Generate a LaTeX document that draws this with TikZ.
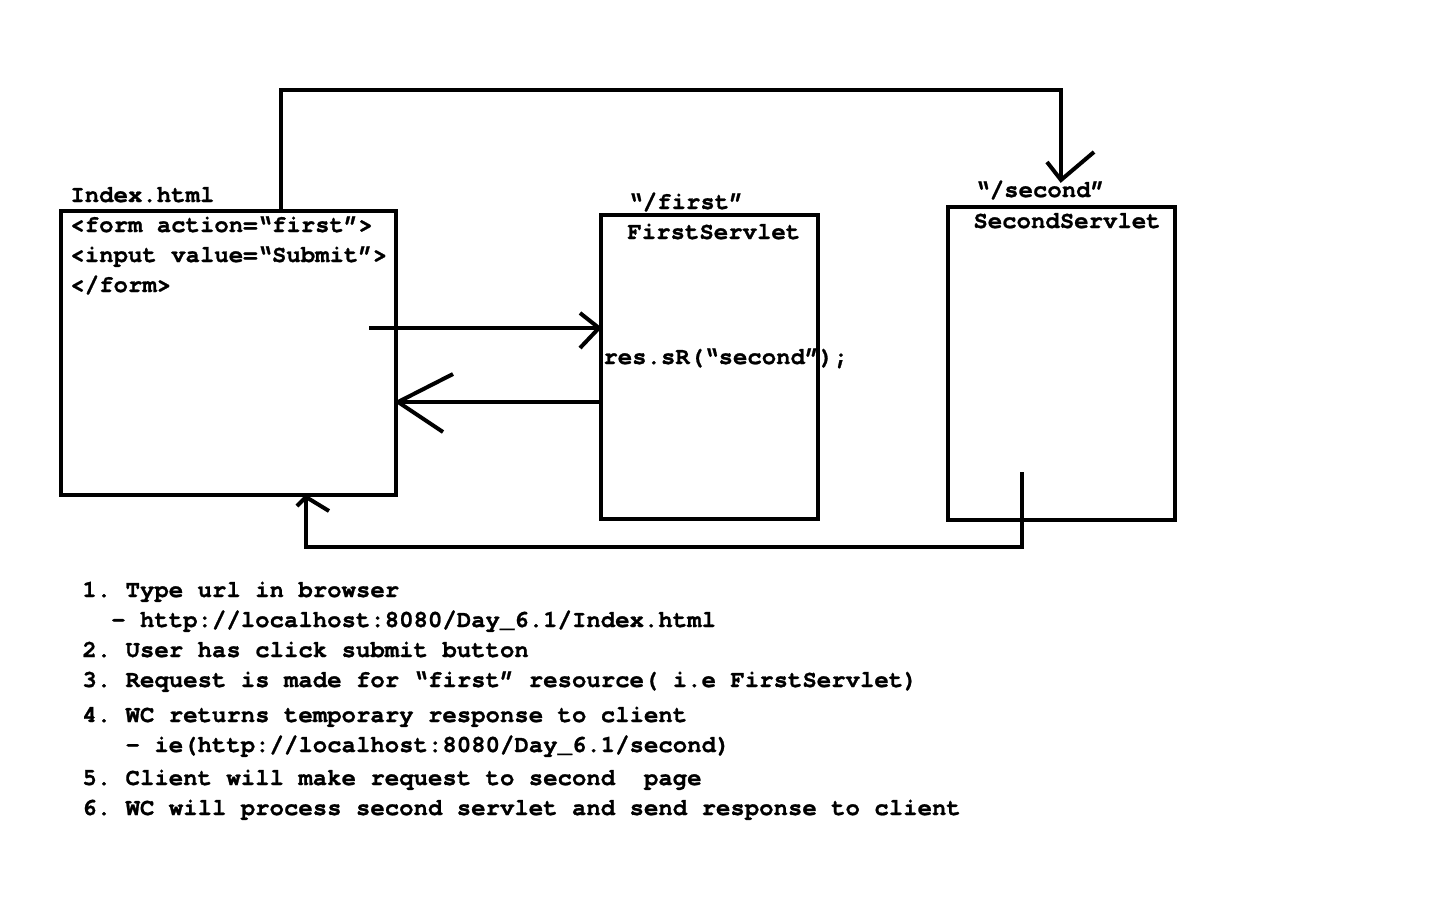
\documentclass[tikz,border=0pt]{standalone}
\usepackage{fontspec}
\setmainfont{texgyrecursor}[Extension=.otf,UprightFont=*-regular,BoldFont=*-bold,Ligatures={NoCommon},BoldFeatures={FakeBold=1}]
\usetikzlibrary{calc}
\frenchspacing
\begin{document}
\begin{tikzpicture}[x=0.5pt,y=-0.5pt,
  box/.style={draw,line width=2pt,inner sep=0pt,rectangle},
  conn/.style={line width=2pt},
  txt/.style={anchor=base west,inner sep=0pt,font=\fontsize{12}{14}\selectfont\bfseries}]
\useasboundingbox (0,0) rectangle (1440,900);
\fill[white] (0,0) rectangle (1440,900);
% boxes
\node[box,minimum width=167.5pt,minimum height=142pt] (index) at (228.5,353) {};
\node[box,minimum width=108.5pt,minimum height=152pt] (first) at (709.5,367) {};
\node[box,minimum width=113.5pt,minimum height=156.5pt] (second) at (1061.5,363.5) {};
% labels
\node[txt] (lindex) at (70,202) {Index.html};
\node[txt] (f1) at (70,232) {<form action=“first”>};
\node[txt] (f2) at (70,262) {<input value=“Submit”>};
\node[txt] (f3) at (70,292) {</form>};
\node[txt] (lfirst) at (628,209) {“/first”};
\node[txt] (nfirst) at (627,239) {FirstServlet};
\node[txt] (ressr) at (603,364) {res.sR(“second”);};
\node[txt] (lsecond) at (975,197) {“/second”};
\node[txt] (nsecond) at (973,228) {SecondServlet};
% list
\node[txt] (s1) at (82,597) {1. Type url in browser};
\node[txt] (s1b) at (82,627) {\ \ - http://localhost:8080/Day\_6.1/Index.html};
\node[txt] (s2) at (82,657) {2. User has click submit button};
\node[txt] (s3) at (82,687) {3. Request is made for “first” resource( i.e FirstServlet)};
\node[txt] (s4) at (82,722) {4. WC returns temporary response to client};
\node[txt] (s4b) at (82,752) {\ \ \ - ie(http://localhost:8080/Day\_6.1/second)};
\node[txt] (s5) at (82,785) {5. Client will make request to second\ \ page};
\node[txt] (s6) at (82,815) {6. WC will process second servlet and send response to client};
% top connector index -> second
\coordinate (topA) at ($(index.north)+(52.5,0)$);
\coordinate (topB) at (1061,90);
\coordinate (topC) at (1061,180);
\draw[conn] (topA) |- (topB) -- (topC);
\draw[conn] (1047,162) -- (topC) -- (1094,152);
% request arrow index -> first
\coordinate (rqA) at (369,328);
\coordinate (rqB) at (first.west |- rqA);
\draw[conn] (rqA) -- (rqB);
\draw[conn] (580,313) -- (rqB) -- (580,348);
% response arrow first -> index
\coordinate (rsA) at (first.west |- 0,402);
\coordinate (rsB) at (index.east |- 0,402);
\draw[conn] (rsA) -- (rsB);
\draw[conn] (453,374) -- (rsB) -- (443,432);
% bottom connector second -> index
\coordinate (btA) at (1022,472);
\coordinate (btB) at (1022,547);
\coordinate (btC) at (index.south -| 306,0);
\draw[conn] (btA) -- (btB) -| (btC);
\draw[conn] (297,506) -- (btC) -- (329,511);
\end{tikzpicture}
\end{document}
